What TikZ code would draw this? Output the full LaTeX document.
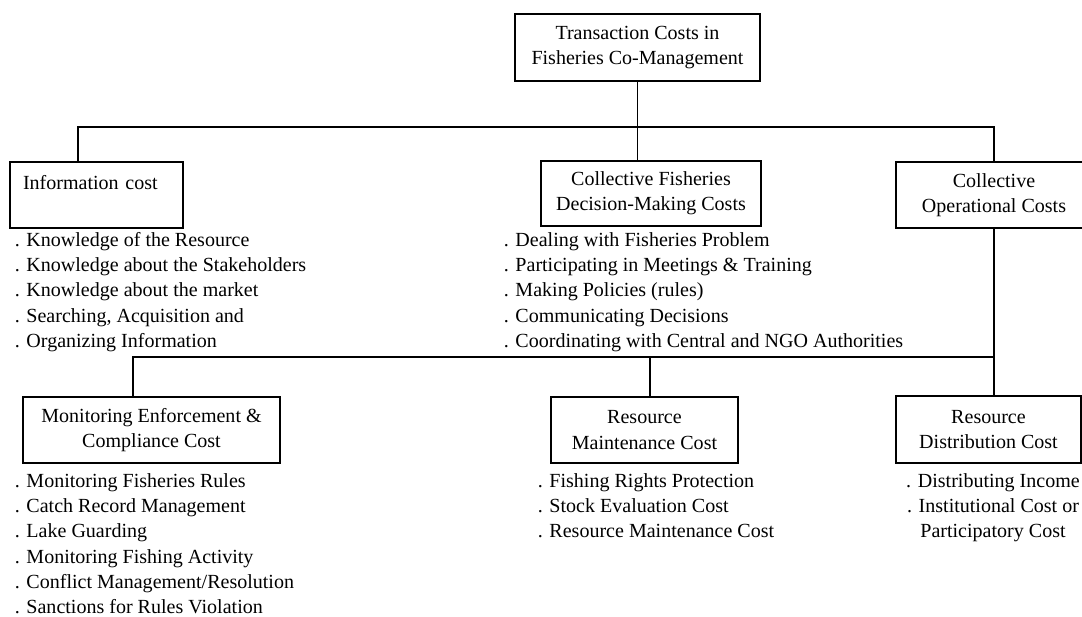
\documentclass[tikz,border=0pt]{standalone}
\usepackage{fontspec}
\setmainfont{Liberation Serif}
\usepackage{tikz}

\begin{document}
\begin{tikzpicture}[x=0.02cm, y=-0.02cm, line width=0.9pt,
	every node/.style={font=\fontsize{11.4}{14.35}\selectfont},
	box/.style={draw, align=center, inner sep=0pt, minimum height=1.32cm},
	list/.style={align=left, inner sep=0pt, anchor=north west}]
	\useasboundingbox[fill=white] (0,0) rectangle (1082,616);
	\node[box, minimum width=4.9cm, minimum height=1.34cm] (top) at (637.5,47.5) {Transaction Costs in\\Fisheries Co-Management};
	\node[box, align=left, text width=2.94cm, inner xsep=0.26cm] (info) at (96.5,195) {Information cost\\\mbox{}};
	\node[box, minimum width=4.4cm, minimum height=1.3cm] (mid) at (651,193.5) {Collective Fisheries\\Decision-Making Costs};
	\node[box, minimum width=3.92cm] (ops) at (994,195) {Collective\\Operational Costs};
	\node[box, minimum width=5.14cm] (mec) at (151.5,430) {Monitoring Enforcement \&\\Compliance Cost};
	\node[box, minimum width=3.74cm] (rmc) at (644.5,430) {Resource\\Maintenance Cost};
	\node[box, minimum width=3.7cm, minimum height=1.34cm] (rdc) at (988.5,429.5) {Resource\\Distribution Cost};
	\coordinate (bus1) at (637.5,127);
	\coordinate (bus2) at (650,357);
	
	\draw (top.south) -- (top.south |- mid.north);
	\draw ([xshift=-0.37cm]info.north) |- (bus1) -| (ops.north);
	\draw ([xshift=-0.37cm]mec.north) |- (bus2) -| (ops.south);
	\draw (bus2) -- (bus2 |- rmc.north);
	\draw (ops.south |- bus2) -- (ops.south |- rdc.north);
	
	\node[list] (infolist) at (14,228) {\strut. Knowledge of the Resource\\. Knowledge about the Stakeholders\\. Knowledge about the market\\. Searching, Acquisition and\\. Organizing Information};
	\node[list] (midlist) at (503,228) {\strut. Dealing with Fisheries Problem\\. Participating in Meetings \& Training\\. Making Policies (rules)\\. Communicating Decisions\\. Coordinating with Central and NGO Authorities};
	\node[list] (meclist) at (14,469) {\strut. Monitoring Fisheries Rules\\. Catch Record Management\\. Lake Guarding\\. Monitoring Fishing Activity\\. Conflict Management/Resolution\\. Sanctions for Rules Violation};
	\node[list] (rmclist) at (537,469) {\strut. Fishing Rights Protection\\. Stock Evaluation Cost\\. Resource Maintenance Cost};
	\node[list, align=center, anchor=north] (rdclist) at (993,469) {\strut. Distributing Income\\. Institutional Cost or\\Participatory Cost};
\end{tikzpicture}
\end{document}
